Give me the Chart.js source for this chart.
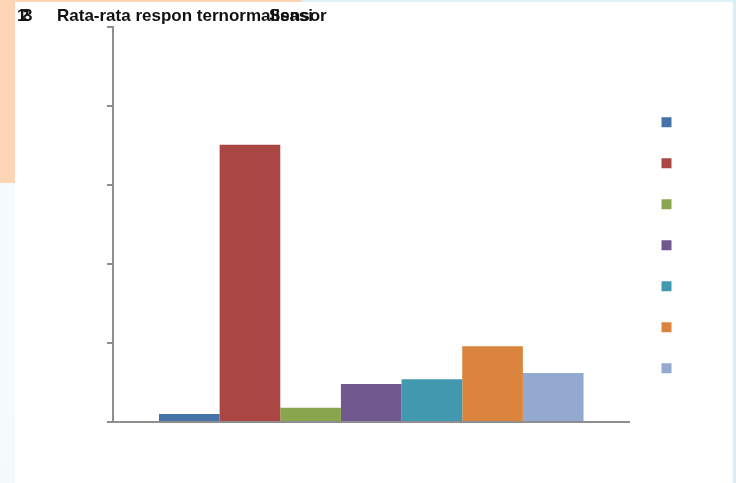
<!DOCTYPE html>
<html>
<head>
<meta charset="utf-8">
<script src="https://cdn.jsdelivr.net/npm/chart.js"></script>
<style>
  html, body { margin: 0; padding: 0; }
  body { width: 736px; height: 483px; position: relative; overflow: hidden;
         background: linear-gradient(160deg, #f6fcfd 0%, #f3fbfc 60%, #e9f8fa 100%); }
  #peach { position: absolute; left: 0; top: 0; width: 302px; height: 183px; background: #fcd5b5; }
  #edge { position: absolute; right: 0; top: 0; width: 3px; height: 483px; background: #d6f0f5; }
  #topband { position: absolute; left: 302px; top: 0; width: 434px; height: 3px; background: #dff3f7; }
  #panel { position: absolute; left: 15px; top: 2px; width: 718px; height: 481px; background: #ffffff; }
  #chart { position: absolute; left: 0; top: 0; }
  .t { position: absolute; top: 4px; font: bold 17px "Liberation Sans", sans-serif; color: #111; white-space: nowrap; }
</style>
</head>
<body>
<div id="peach"></div>
<div id="topband"></div>
<div id="edge"></div>
<div id="panel">
  <canvas id="chart" width="718" height="481"></canvas>
  <div class="t" style="left:2px">1</div>
  <div class="t" style="left:5px">2</div>
  <div class="t" style="left:8px">3</div>
  <div class="t" style="left:42px">Rata-rata respon ternormalisasi</div>
  <div class="t" style="left:254px">Sensor</div>
</div>
<script>
const categories = [''];
const seriesNames = ['', '', '', '', '', '', ''];
const seriesValues = [0.10, 3.51, 0.18, 0.48, 0.54, 0.96, 0.62];
const seriesColors = ['#4572A7', '#AA4643', '#89A54E', '#71588F', '#4198AF', '#DB843D', '#93A9CF'];
const yTicks = [0, 1, 2, 3, 4, 5];

const axisColor = '#8e8e8e';

const datasets = seriesValues.map((v, i) => ({
  label: seriesNames[i],
  data: [v],
  backgroundColor: seriesColors[i],
  borderWidth: 0,
  barPercentage: 1,
  categoryPercentage: 0.822,
}));

const ctx = document.getElementById('chart').getContext('2d');
new Chart(ctx, {
  type: 'bar',
  data: { labels: categories, datasets: datasets },
  options: {
    responsive: false,
    animation: false,
    layout: { padding: { top: 25, bottom: 53, left: 92, right: 48.5 } },
    plugins: {
      title: { display: false },
      tooltip: { enabled: false },
      legend: {
        position: 'right',
        title: { display: true, text: '', font: { size: 12 }, padding: { top: 0, bottom: 19 } },
        labels: {
          boxWidth: 8, boxHeight: 8, padding: 33, font: { size: 8 },
          // 8px box + 2px outline in the same colour gives the 10px squares
          generateLabels: (chart) => Chart.defaults.plugins.legend.labels.generateLabels(chart)
            .map((l) => ({ ...l, lineWidth: 2, strokeStyle: l.fillStyle })),
        },
      },
    },
    scales: {
      x: {
        grid: { display: false },
        ticks: { display: false },
        border: { color: axisColor, width: 2 },
      },
      y: {
        min: yTicks[0],
        max: yTicks[yTicks.length - 1],
        afterBuildTicks: (axis) => { axis.ticks = yTicks.map((v) => ({ value: v })); },
        ticks: { display: false },
        grid: { drawOnChartArea: false, drawTicks: true, tickLength: 6, color: axisColor, lineWidth: 2 },
        border: { color: axisColor, width: 2 },
      },
    },
  },
});
</script>
</body>
</html>
